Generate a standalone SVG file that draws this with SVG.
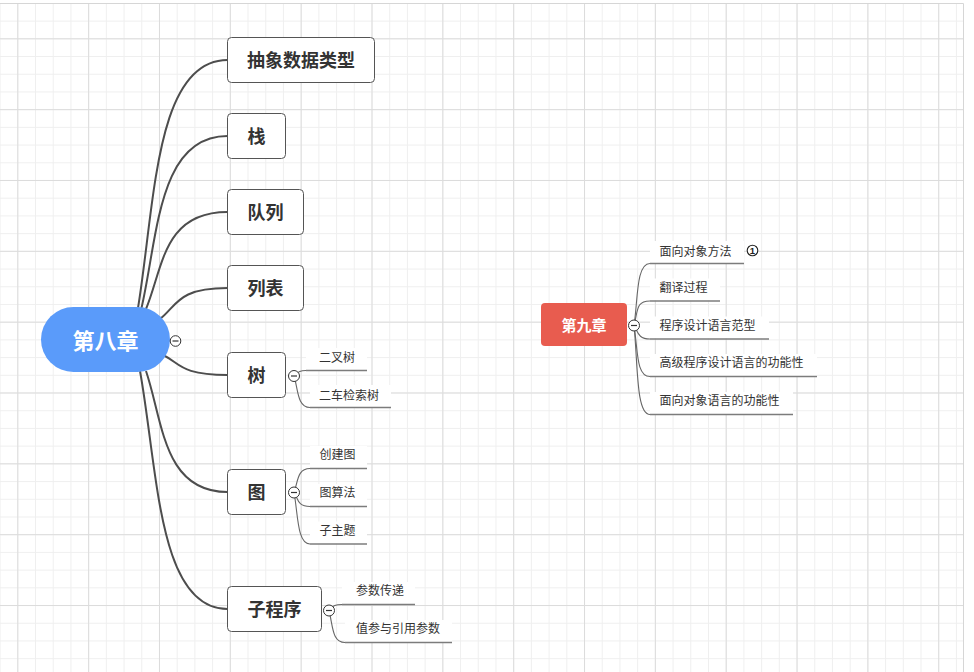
<svg xmlns="http://www.w3.org/2000/svg" width="974" height="672" viewBox="0 0 974 672">
<defs>
<pattern id="minor" patternUnits="userSpaceOnUse" x="17.3" y="2.9" width="17.71" height="17.71">
<path d="M0.5 0V17.71M0 0.5H17.71" fill="none" stroke="#efefef" stroke-width="1"/>
</pattern>
<pattern id="major" patternUnits="userSpaceOnUse" x="17.3" y="38.3" width="70.84" height="70.84">
<path d="M0.5 0V70.84M0 0.5H70.84" fill="none" stroke="#dcdcdc" stroke-width="1"/>
</pattern>
<style>
.main rect{fill:#fff;stroke:#555;stroke-width:1}
.main text{font-family:"Noto Sans CJK SC","Noto Sans",sans-serif;font-size:18px;font-weight:bold;fill:#333;text-anchor:middle}
.sub rect{fill:#fff}
.sub text{font-family:"Noto Sans CJK SC","Noto Sans",sans-serif;font-size:12px;fill:#333}
.sub line{stroke:#7c7c7c;stroke-width:1.4}
.conn path{fill:none;stroke:#4d4d4d;stroke-width:2}
.conn path.thin{stroke:#666;stroke-width:1.1}
.fold circle{fill:#fff;stroke:#333;stroke-width:1}
.fold path{stroke:#333;stroke-width:1.2}
</style>
</defs>
<rect x="0" y="0" width="974" height="672" fill="#fff"/>
<rect x="0" y="3" width="963" height="669" fill="url(#minor)"/>
<rect x="0" y="3" width="963" height="669" fill="url(#major)"/>
<path d="M0 3.5H963.5V672" fill="none" stroke="#d6d6d6" stroke-width="1"/>

<g id="connectors" class="conn">
<path d="M138 308 C155 204 155 60 227.5 60"/>
<path d="M141.5 308 C158 236 158 136 227.5 136"/>
<path d="M146 309 C163 268 163 212 227.5 212"/>
<path d="M160 319 C177 306 177 288 227.5 288"/>
<path d="M163 355 C180 363 180 375 227.5 375"/>
<path d="M146 371 C163 421 163 492 227.5 492"/>
<path d="M140 371 C158 471 158 609 227.5 609"/>
<path class="thin" d="M294 376 C298 373 298 370.5 306 370.5"/>
<path class="thin" d="M294 376 C298 388 297 407.5 310 407.5"/>
<path class="thin" d="M294 492.5 C298 482 297 468.5 310 468.5"/>
<path class="thin" d="M294 492.5 C298 498 297 506.5 310 506.5"/>
<path class="thin" d="M294 492.5 C298 513 297 544 310 544"/>
<path class="thin" d="M329 610.5 C333 607 333 604.5 342 604.5"/>
<path class="thin" d="M329 610.5 C333 626 332 642.5 345 642.5"/>
<path class="thin" d="M634 325.5 C638 300 636 263.5 650 263.5"/>
<path class="thin" d="M634 325.5 C638 310 636 301 650 301"/>
<path class="thin" d="M634 325.5 C638 332 638 339 650 339"/>
<path class="thin" d="M634 325.5 C638 350 636 376.5 650 376.5"/>
<path class="thin" d="M634 325.5 C638 365 636 414.5 650 414.5"/>
</g>

<g id="root8">
<rect x="41" y="307" width="129" height="65" rx="32.5" fill="#5a9bfa"/>
<text x="105.5" y="349" font-family="Noto Sans CJK SC,Noto Sans,sans-serif" font-size="22" font-weight="bold" fill="#fff" text-anchor="middle">第八章</text>
</g>
<g class="fold"><circle cx="175.5" cy="341" r="5.3"/><path d="M172.5 341H178.5"/></g>

<g id="n-adt" class="main"><rect x="227.5" y="37.5" width="147" height="45" rx="4"/><text x="301" y="67">抽象数据类型</text></g>
<g id="n-stack" class="main"><rect x="227.5" y="113.5" width="58" height="45" rx="4"/><text x="256.5" y="143">栈</text></g>
<g id="n-queue" class="main"><rect x="227.5" y="189.5" width="76" height="45" rx="4"/><text x="265.5" y="219">队列</text></g>
<g id="n-list" class="main"><rect x="227.5" y="265.5" width="76" height="45" rx="4"/><text x="265.5" y="295">列表</text></g>
<g id="n-tree" class="main"><rect x="227.5" y="352.5" width="58" height="45" rx="4"/><text x="256.5" y="382">树</text></g>
<g id="n-graph" class="main"><rect x="227.5" y="469.5" width="58" height="45" rx="4"/><text x="256.5" y="499">图</text></g>
<g id="n-sub" class="main"><rect x="227.5" y="586.5" width="94" height="45" rx="4"/><text x="274.5" y="616">子程序</text></g>

<g id="s-bt" class="sub"><rect x="306" y="348" width="61" height="22"/><text x="319" y="361.5">二叉树</text><line x1="306" y1="370.5" x2="367" y2="370.5"/></g>
<g id="s-bst" class="sub"><rect x="310" y="385" width="81" height="22"/><text x="319" y="399.5">二车检索树</text><line x1="310" y1="407.5" x2="391" y2="407.5"/></g>
<g class="fold"><circle cx="294" cy="376" r="5.5"/><path d="M291 376H297"/></g>

<g id="s-cg" class="sub"><rect x="310" y="446" width="57" height="22"/><text x="319.5" y="459">创建图</text><line x1="310" y1="468.5" x2="367" y2="468.5"/></g>
<g id="s-ga" class="sub"><rect x="310" y="484" width="57" height="22"/><text x="319.5" y="497">图算法</text><line x1="310" y1="506.5" x2="367" y2="506.5"/></g>
<g id="s-zt" class="sub"><rect x="310" y="521.5" width="57" height="22"/><text x="319.5" y="535">子主题</text><line x1="310" y1="544" x2="367" y2="544"/></g>
<g class="fold"><circle cx="294" cy="492.5" r="5.5"/><path d="M291 492.5H297"/></g>

<g id="s-cs" class="sub"><rect x="342" y="582" width="73" height="22"/><text x="356" y="595">参数传递</text><line x1="342" y1="604.5" x2="415" y2="604.5"/></g>
<g id="s-zc" class="sub"><rect x="345" y="620" width="107" height="22"/><text x="356" y="633">值参与引用参数</text><line x1="345" y1="642.5" x2="452" y2="642.5"/></g>
<g class="fold"><circle cx="329" cy="610.5" r="5.5"/><path d="M326 610.5H332"/></g>

<g id="root9">
<rect x="541" y="303" width="86" height="43" rx="4" fill="#e85c4f"/>
<text x="584" y="330.5" font-family="Noto Sans CJK SC,Noto Sans,sans-serif" font-size="15" font-weight="bold" fill="#fff" text-anchor="middle">第九章</text>
</g>

<g id="r-oom" class="sub"><rect x="650" y="241" width="94" height="22"/><text x="659.5" y="255.5">面向对象方法</text><line x1="650" y1="263.5" x2="744" y2="263.5"/>
<circle cx="752.5" cy="250.5" r="5.3" fill="#fff" stroke="#222" stroke-width="1.1"/>
<text x="752.5" y="253.8" style="font-size:9.5px;font-family:'Liberation Sans',sans-serif;font-weight:bold;fill:#222;text-anchor:middle">1</text></g>
<g id="r-tp" class="sub"><rect x="650" y="278.5" width="70" height="22"/><text x="659.5" y="292">翻译过程</text><line x1="650" y1="301" x2="720" y2="301"/></g>
<g id="r-pp" class="sub"><rect x="650" y="316.5" width="119" height="22"/><text x="659.5" y="330">程序设计语言范型</text><line x1="650" y1="339" x2="769" y2="339"/></g>
<g id="r-hl" class="sub"><rect x="650" y="354" width="167" height="22"/><text x="659.5" y="367">高级程序设计语言的功能性</text><line x1="650" y1="376.5" x2="817" y2="376.5"/></g>
<g id="r-ol" class="sub"><rect x="650" y="392" width="143" height="22"/><text x="659.5" y="405">面向对象语言的功能性</text><line x1="650" y1="414.5" x2="793" y2="414.5"/></g>
<g class="fold"><circle cx="634" cy="325.5" r="5.5"/><path d="M631 325.5H637"/></g>
</svg>
